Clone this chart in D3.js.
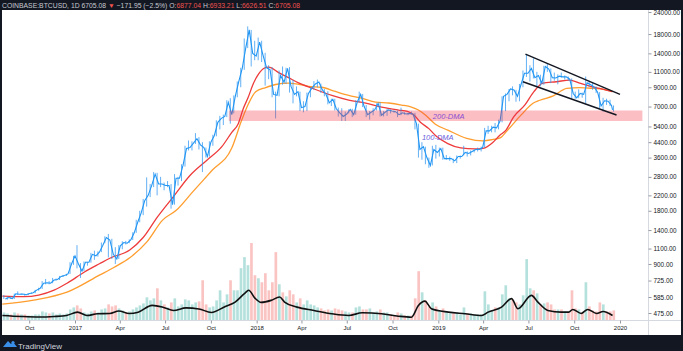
<!DOCTYPE html>
<html>
<head>
<meta charset="utf-8">
<script src="https://cdn.jsdelivr.net/npm/d3@7/dist/d3.min.js"></script>
<style>
  html, body { margin: 0; padding: 0; background: #131722; }
  svg { display: block; }
  text { font-family: "Liberation Sans", Arial, sans-serif; }
</style>
</head>
<body>
<svg id="chart" width="683" height="351"></svg>
<script>
// BTCUSD daily chart (Coinbase), drawn from weekly bars

const weekStart = '2016-08-08';
const lastDay = '2019-12-17';

const closes = [
  570,581,573,610,607,609,603,612,618,640,
  655,700,705,700,730,735,765,775,790,900,
  1000,900,820,920,920,1020,1000,1050,1150,1270,
  1230,1020,960,1140,1190,1180,1230,1350,1550,1750,
  2050,2200,2500,2900,2550,2550,2500,2500,1950,2750,
  2750,3250,4050,4100,4350,4600,4250,4100,3650,4400,
  4800,5700,6000,6150,7400,6300,8000,9700,11500,15000,
  19000,14000,13500,16200,13600,11600,11300,8200,8100,10500,
  9600,11500,9100,8200,8500,6900,7000,8300,8900,9400,
  9650,8700,8250,7350,7700,6800,6450,6150,6350,6750,
  6300,7400,8200,7000,6300,6500,6700,7300,6250,6500,
  6700,6600,6550,6300,6450,6350,6400,6350,5600,4000,
  4150,3600,3250,4000,3850,4050,3550,3550,3550,3450,
  3650,3650,3850,3800,3900,4000,4000,4100,5100,5100,
  5350,5300,5800,8000,8200,8800,8700,8000,9300,10800,
  10800,11500,10200,10500,9500,11800,11400,10200,10150,10400,
  10300,10300,10000,8300,7850,8300,8200,9550,9300,9050,
  8450,7050,7550,7500,7100,6705
];
const highs = [
  600,590,590,612,630,612,610,615,620,642,
  660,720,740,720,750,745,770,780,792,920,
  1000,1150,910,930,925,1040,1070,1060,1190,1290,
  1330,1250,1120,1150,1210,1215,1240,1360,1600,1800,
  2100,2780,2550,2980,2950,2800,2600,2650,2550,2900,
  2800,3300,4200,4500,4450,4950,4700,4400,4100,4450,
  4850,5850,6200,6300,7600,7800,8100,9700,11600,17000,
  19900,19000,16500,17200,16500,14100,12000,11700,8500,11200,
  11800,11600,11700,9900,9100,8500,7500,8400,9000,9750,
  9950,9450,8800,8550,7750,7750,6900,6850,6550,6750,
  6800,7600,8500,8250,7150,6600,6850,7300,7400,6600,
  6800,6750,6650,6650,6900,6500,6450,6550,6450,5600,
  4400,4150,3600,4200,4250,4100,4100,3720,3650,3550,
  3700,3700,4200,3900,3950,4000,4100,4150,5300,5450,
  5450,5650,5900,8000,8300,8800,9100,8700,9400,11200,
  13800,12000,13100,11000,10600,11900,12300,11500,10900,10650,
  10900,10500,10350,10100,8500,8750,8400,10350,9800,9550,
  9100,8450,7850,7750,7650,7100
];
const lows = [
  570,565,570,570,600,604,595,600,608,614,
  635,650,690,690,700,725,730,760,770,790,
  890,850,750,820,880,915,950,990,1050,1180,
  980,960,900,960,1090,1160,1180,1230,1350,1550,
  1700,1900,2150,2450,2200,2450,2350,2450,1850,1950,
  2500,2650,3200,3950,3950,4300,4000,2980,3600,3650,
  4200,4750,5200,5500,6100,5600,6400,7900,9000,11300,
  15000,11800,12800,12800,12500,9200,10000,7900,6000,8000,
  9300,9400,8400,7300,8000,6600,6500,6600,7900,8700,
  9000,8350,8000,7200,7050,6650,6150,5800,5800,6400,
  6100,6300,7350,6950,6100,5900,6250,6650,6150,6150,
  6200,6400,6450,6100,6250,6300,6250,6300,5200,3600,
  3500,3300,3150,3250,3550,3650,3500,3500,3450,3350,
  3350,3550,3700,3650,3700,3850,3900,3900,4100,4900,
  5000,5000,5200,5700,6600,7500,8100,7450,7500,9000,
  10300,9700,10100,9100,9100,9300,11000,9500,9800,9350,
  10200,9950,9800,7750,7750,7800,7850,7300,9050,8700,
  8350,6800,6550,7150,7050,6550
];
// weekly peak daily volume, thousand BTC
const volumes = [
  8,7,6,8,7,6,6,5,5,6,
  6,9,8,7,8,6,7,6,7,11,
  13,15,12,8,7,9,10,8,11,12,
  16,14,15,12,10,8,9,11,13,15,
  17,23,20,22,32,20,16,13,18,22,
  14,16,21,20,16,18,19,40,16,13,
  14,20,30,18,26,40,30,30,52,63,
  55,77,45,42,38,47,30,38,68,36,
  28,24,30,26,18,22,16,20,16,15,
  13,12,10,11,10,12,11,10,9,8,
  8,13,14,11,11,12,8,9,11,8,
  8,6,5,8,7,5,5,5,22,49,
  28,20,14,18,14,10,12,8,7,7,
  8,6,13,7,7,6,6,6,29,16,
  10,13,13,26,35,22,21,18,16,25,
  61,32,30,27,16,17,18,16,11,11,
  11,9,8,30,12,11,8,38,14,10,
  9,18,16,9,9,10
];

const ma100 = [
  ['2016-08-08',592],['2016-09-20',588],['2016-10-20',600],['2016-11-20',640],['2016-12-16',700],
  ['2017-01-20',810],['2017-02-20',905],['2017-03-12',970],['2017-04-21',1080],['2017-05-18',1270],
  ['2017-06-15',1650],['2017-07-17',2150],['2017-08-20',2850],['2017-09-23',3480],['2017-10-23',4150],
  ['2017-11-12',5000],['2017-11-25',5600],['2017-12-05',6800],['2017-12-15',7900],['2017-12-25',9400],
  ['2018-01-05',10700],['2018-01-15',11500],['2018-01-25',11700],['2018-02-14',10900],['2018-03-06',10200],
  ['2018-03-26',9540],['2018-04-22',8900],['2018-06-01',8100],['2018-07-05',7620],['2018-08-08',7330],
  ['2018-09-09',6950],['2018-10-13',6690],['2018-10-31',6580],['2018-11-13',6270],['2018-11-26',5710],
  ['2018-12-13',5250],['2018-12-28',4750],['2019-01-20',4320],['2019-02-15',4080],['2019-03-15',4030],
  ['2019-04-01',4060],['2019-04-21',4400],['2019-05-04',4800],['2019-05-17',5150],['2019-06-01',6100],
  ['2019-06-24',7150],['2019-07-12',8500],['2019-07-30',9500],['2019-08-26',9670],['2019-09-22',9890],
  ['2019-10-12',9500],['2019-11-01',9140],['2019-11-21',8860],['2019-12-17',8500]
];
const ma200 = [
  ['2016-08-08',533],['2016-10-10',562],['2016-12-16',623],['2017-02-20',780],['2017-03-20',860],
  ['2017-04-21',975],['2017-05-25',1196],['2017-06-26',1594],['2017-07-24',1817],['2017-08-25',2296],
  ['2017-10-04',3060],['2017-11-12',4075],['2017-12-02',5870],['2017-12-16',7300],['2017-12-30',8490],
  ['2018-01-19',8960],['2018-02-08',9330],['2018-03-06',9500],['2018-04-01',9300],['2018-04-15',9100],
  ['2018-05-11',9000],['2018-06-08',8520],['2018-07-05',8100],['2018-07-31',7810],['2018-08-28',7420],
  ['2018-09-23',7330],['2018-10-19',7140],['2018-11-08',6950],['2018-11-22',6690],['2018-12-06',6270],
  ['2018-12-26',5560],['2019-01-20',5150],['2019-02-27',4630],['2019-04-01',4480],['2019-04-21',4560],
  ['2019-05-05',4650],['2019-05-19',5100],['2019-06-17',6300],['2019-07-11',7330],['2019-07-24',7600],
  ['2019-08-20',8050],['2019-09-16',8860],['2019-10-12',8960],['2019-11-09',8860],['2019-11-29',8750],
  ['2019-12-17',8500]
];
const volumeMA = [
  ['2016-08-08',5],['2016-09-15',4],['2016-10-20',3.5],['2016-11-20',4],['2016-12-15',5],
  ['2017-01-06',8.3],['2017-01-25',5],['2017-02-15',6.7],['2017-03-12',7],['2017-03-30',9.5],
  ['2017-04-20',7],['2017-05-08',8.3],['2017-06-05',15],['2017-06-28',13],['2017-07-18',10],
  ['2017-08-12',12.5],['2017-09-07',11.5],['2017-10-02',8],['2017-10-30',14],['2017-11-18',18],
  ['2017-12-08',27],['2017-12-16',30],['2017-12-28',22.5],['2018-01-10',18],['2018-01-30',20],
  ['2018-02-16',23.3],['2018-02-26',18.3],['2018-03-23',13.3],['2018-04-26',10],['2018-06-01',6.7],
  ['2018-07-05',5],['2018-08-01',7.7],['2018-09-09',6.7],['2018-10-13',4.3],['2018-11-08',3.3],
  ['2018-11-22',15],['2018-12-05',19.3],['2018-12-18',11.7],['2019-01-21',8.3],['2019-02-24',6.7],
  ['2019-03-29',5],['2019-04-11',8.3],['2019-05-08',13.3],['2019-05-28',21.7],['2019-06-10',11.7],
  ['2019-07-07',25],['2019-07-20',18.3],['2019-08-09',10],['2019-09-05',8.3],['2019-09-20',8.3],
  ['2019-09-28',11],['2019-10-15',7],['2019-10-28',11],['2019-11-15',7],['2019-11-28',9],
  ['2019-12-17',5]
];

// support zone and falling channel
const zoneDates = ['2017-11-06', '2020-02-15'];
const zonePrices = [5800, 6650];
const channelUpper = [['2019-06-25', 13880], ['2020-01-01', 8200]];
const channelLower = [['2019-06-20', 9670], ['2019-12-25', 6270]];

const maLabels = ['200-DMA', '100-DMA'];
const maLabelDates = ['2018-12-21', '2018-11-29'];
const maLabelPrices = [6180, 4660];

const priceTicks = [24000,18000,14000,11000,9000,7000,5400,4400,3600,2800,2200,1800,1400,1100,900,725,585,475];
const timeTicks = ['2016-10-01','2017-01-01','2017-04-01','2017-07-01','2017-10-01','2018-01-01','2018-04-01',
  '2018-07-01','2018-10-01','2019-01-01','2019-04-01','2019-07-01','2019-10-01','2020-01-01'];

const header = [
  ['COINBASE:BTCUSD, 1D ', '#c7cad1'], ['6705.08 ', '#c7cad1'], ['\u25BC ', '#ef5350'],
  ['\u2212171.95 (\u22122.5%) ', '#c7cad1'], ['O:', '#c7cad1'], ['6877.04 ', '#ef5350'],
  ['H:', '#c7cad1'], ['6933.21 ', '#ef5350'], ['L:', '#c7cad1'], ['6626.51 ', '#ef5350'],
  ['C:', '#c7cad1'], ['6705.08', '#ef5350']
];

(function(){
  const parse = d3.utcParse('%Y-%m-%d');
  const svg = d3.select('#chart');

  const frameL = 2, frameR = 681, frameT = 10, frameB = 335;
  const axisX = 648.5, axisY = 320.5;

  const x = d3.scaleUtc().domain([parse('2017-01-01'), parse('2020-01-01')]).range([75, 620]);
  const y = d3.scaleLog().domain([475, 24000]).range([313, 12]);
  const yv = d3.scaleLinear().domain([0, 80]).range([axisY, 240]);

  const t0 = parse(weekStart);
  const tEnd = parse(lastDay);
  const weeks = closes.map((c, i) => {
    const start = d3.utcDay.offset(t0, 7 * i);
    const e = d3.utcDay.offset(start, 6);
    return {
      start, mid: d3.utcDay.offset(start, 3), end: e > tEnd ? tEnd : e,
      close: c, high: highs[i], low: lows[i], vol: volumes[i],
      up: i === 0 ? true : c >= closes[i - 1]
    };
  });

  // frame
  svg.append('rect').attr('x', frameL).attr('y', frameT)
    .attr('width', frameR - frameL).attr('height', frameB - frameT).attr('fill', '#fff');

  svg.append('defs').append('clipPath').attr('id', 'plot')
    .append('rect').attr('x', frameL).attr('y', frameT).attr('width', axisX - frameL).attr('height', axisY - frameT);

  const plot = svg.append('g').attr('clip-path', 'url(#plot)');

  // volume
  plot.append('g').selectAll('rect').data(weeks).join('rect')
    .attr('x', d => x(d.start) + 0.4)
    .attr('width', d => x(d3.utcDay.offset(d.start, 7)) - x(d.start) - 0.8)
    .attr('y', d => yv(d.vol))
    .attr('height', d => yv(0) - yv(d.vol))
    .attr('fill', d => d.up ? '#26a69a' : '#ef5350')
    .attr('fill-opacity', 0.34);

  const dateLine = yy => d3.line().x(d => x(parse(d[0]))).y(d => yy(d[1])).curve(d3.curveMonotoneX);

  plot.append('path').datum(volumeMA)
    .attr('d', dateLine(yv)).attr('fill', 'none').attr('stroke', '#111').attr('stroke-width', 1.6);

  // moving averages
  plot.append('path').datum(ma200)
    .attr('d', dateLine(y)).attr('fill', 'none').attr('stroke', '#ff9d2e').attr('stroke-width', 1.3);
  plot.append('path').datum(ma100)
    .attr('d', dateLine(y)).attr('fill', 'none').attr('stroke', '#ee3b3b').attr('stroke-width', 1.3);

  // price: weekly high-low bars plus close line
  plot.append('g').selectAll('line').data(weeks).join('line')
    .attr('x1', d => x(d.mid)).attr('x2', d => x(d.mid))
    .attr('y1', d => y(d.high)).attr('y2', d => y(d.low))
    .attr('stroke', '#2f95f0').attr('stroke-width', 1).attr('stroke-opacity', 0.75);

  plot.append('path').datum(weeks)
    .attr('d', d3.line().x(d => x(d.end)).y(d => y(d.close)))
    .attr('fill', 'none').attr('stroke', '#2196f3').attr('stroke-width', 1.1);

  // support zone
  const zx0 = x(parse(zoneDates[0])), zx1 = x(parse(zoneDates[1]));
  plot.append('rect')
    .attr('x', zx0).attr('width', zx1 - zx0)
    .attr('y', y(zonePrices[1])).attr('height', y(zonePrices[0]) - y(zonePrices[1]))
    .attr('fill', '#f23645').attr('fill-opacity', 0.32);

  // channel
  [channelUpper, channelLower].forEach(c => {
    plot.append('path').datum(c)
      .attr('d', d3.line().x(d => x(parse(d[0]))).y(d => y(d[1])))
      .attr('stroke', '#131722').attr('stroke-width', 1.4).attr('fill', 'none');
  });

  // labels
  plot.selectAll('text.ma').data(maLabels).join('text')
    .attr('class', 'ma')
    .attr('x', (d, i) => x(parse(maLabelDates[i])))
    .attr('y', (d, i) => y(maLabelPrices[i]))
    .attr('dy', '0.35em')
    .attr('fill', (d, i) => i === 0 ? '#8b4fd1' : '#6a5fe0')
    .attr('font-size', 7.5).attr('font-style', 'italic')
    .text(d => d);

  // separators
  svg.append('line').attr('x1', axisX).attr('x2', axisX).attr('y1', frameT).attr('y2', frameB).attr('stroke', '#d6d9e0');
  svg.append('line').attr('x1', frameL).attr('x2', frameR).attr('y1', axisY).attr('y2', axisY).attr('stroke', '#d6d9e0');

  // price axis
  const ya = svg.append('g').attr('transform', `translate(${axisX},0)`)
    .call(d3.axisRight(y).tickValues(priceTicks).tickSize(3).tickPadding(2).tickFormat(d3.format('.2f')));
  ya.select('.domain').remove();
  ya.selectAll('line').attr('stroke', '#9598a1');
  ya.selectAll('text').attr('font-size', 6.4).attr('fill', '#131722').attr('font-family', '"Liberation Sans", Arial, sans-serif');

  // time axis
  const xa = svg.append('g').attr('transform', `translate(0,${axisY})`)
    .call(d3.axisBottom(x).tickValues(timeTicks.map(parse)).tickSize(3).tickPadding(2)
      .tickFormat(d => d.getUTCMonth() === 0 ? d3.utcFormat('%Y')(d) : d3.utcFormat('%b')(d)));
  xa.select('.domain').remove();
  xa.selectAll('line').attr('stroke', '#9598a1');
  xa.selectAll('text').attr('font-size', 6).attr('fill', '#131722').attr('font-family', '"Liberation Sans", Arial, sans-serif');

  // header line
  const ht = svg.append('text').attr('x', 2).attr('y', 7.5).attr('font-size', 6.6)
    .attr('textLength', 298).attr('lengthAdjust', 'spacingAndGlyphs');
  ht.selectAll('tspan').data(header).join('tspan')
    .attr('fill', d => d[1]).text(d => d[0]);

  // TradingView mark
  const logo = svg.append('g').attr('transform', 'translate(3,340)');
  logo.append('path').attr('d', 'M0,7 L5,1 L8,4 L10,2 L14,7 Z').attr('fill', '#3a8fe8');
  logo.append('circle').attr('cx', 10).attr('cy', 2.5).attr('r', 1.6).attr('fill', '#3a8fe8');
  svg.append('text').attr('x', 18).attr('y', 349).attr('font-size', 8).attr('fill', '#d1d4dc').text('TradingView');
})();
</script>
</body>
</html>
